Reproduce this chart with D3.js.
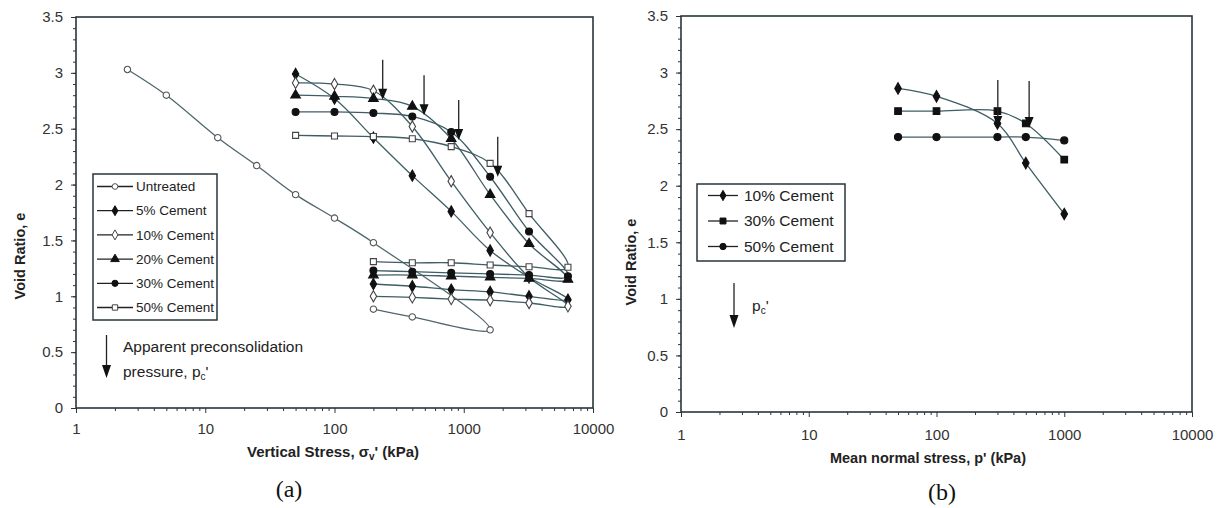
<!DOCTYPE html>
<html>
<head>
<meta charset="utf-8">
<script src="https://cdn.jsdelivr.net/npm/d3@7"></script>
<style>
  body { margin: 0; background: #fff; }
  svg { display: block; font-family: "Liberation Sans", Arial, sans-serif; }
</style>
</head>
<body>
<script>
// ---- data: panel (a) oedometer tests, [stress kPa, void ratio] ----
const untreated = [[2.5, 3.03], [5, 2.80], [12.5, 2.42], [25, 2.17], [50, 1.91], [100, 1.70], [200, 1.48],
  [1600, 0.70], [400, 0.815], [200, 0.885]];
const cement5 = [[50, 2.99], [100, 2.77], [200, 2.42], [400, 2.08], [800, 1.76], [1600, 1.41], [3200, 1.17], [6400, 0.97],
  [3200, 1.00], [1600, 1.04], [800, 1.06], [400, 1.09], [200, 1.11]];
const cement10 = [[50, 2.91], [100, 2.90], [200, 2.84], [400, 2.52], [800, 2.03], [1600, 1.57], [3200, 1.17], [6400, 0.91],
  [3200, 0.94], [1600, 0.965], [800, 0.975], [400, 0.99], [200, 1.00]];
const cement20 = [[50, 2.80], [100, 2.79], [200, 2.77], [400, 2.70], [800, 2.41], [1600, 1.91], [3200, 1.47], [6400, 1.15],
  [3200, 1.16], [1600, 1.17], [800, 1.18], [400, 1.19], [200, 1.19]];
const cement30 = [[50, 2.65], [100, 2.65], [200, 2.64], [400, 2.61], [800, 2.47], [1600, 2.07], [3200, 1.58], [6400, 1.18],
  [3200, 1.19], [1600, 1.20], [800, 1.21], [400, 1.22], [200, 1.23]];
const cement50 = [[50, 2.44], [100, 2.435], [200, 2.43], [400, 2.41], [800, 2.34], [1600, 2.19], [3200, 1.74], [6400, 1.26],
  [3200, 1.265], [1600, 1.28], [800, 1.30], [400, 1.30], [200, 1.31]];
// apparent preconsolidation pressures (stress, void ratio at arrow tip)
const pcA = [[236, 2.76], [493, 2.62], [914, 2.40], [1832, 2.07]];

// ---- data: panel (b) isotropic tests, [mean stress kPa, void ratio] ----
const iso10 = [[50, 2.86], [100, 2.79], [300, 2.55], [500, 2.20], [1000, 1.75]];
const iso30 = [[50, 2.66], [100, 2.66], [300, 2.66], [500, 2.55], [1000, 2.23]];
const iso50 = [[50, 2.43], [100, 2.43], [300, 2.43], [500, 2.43], [1000, 2.40]];
const pcB = [[302, 2.52], [531, 2.51]];

const xTicks = [1, 10, 100, 1000, 10000];
const yTicks = [0, 0.5, 1, 1.5, 2, 2.5, 3, 3.5];
const legendA = ["Untreated", "5% Cement", "10% Cement", "20% Cement", "30% Cement", "50% Cement"];
const legendB = ["10% Cement", "30% Cement", "50% Cement"];

const W = 1221, H = 508;
const lineCol = "#3f5d66", frameCol = "#26363b", tickCol = "#333";

const svg = d3.select("body").append("svg").attr("width", W).attr("height", H);

// marker styles
const styles = {
  untreated: { type: d3.symbolCircle, size: 32, fill: "#fff", stroke: "#555", line: "#4f666d" },
  c5: { type: d3.symbolDiamond, size: 36, fill: "#111", stroke: "#111", line: lineCol },
  c10: { type: d3.symbolDiamond, size: 36, fill: "#fff", stroke: "#444", line: lineCol },
  c20: { type: d3.symbolTriangle, size: 40, fill: "#111", stroke: "#111", line: lineCol },
  c30: { type: d3.symbolCircle, size: 38, fill: "#111", stroke: "#111", line: lineCol },
  c50: { type: d3.symbolSquare, size: 36, fill: "#fff", stroke: "#444", line: lineCol },
  b10: { type: d3.symbolDiamond, size: 38, fill: "#111", stroke: "#111", line: lineCol },
  b30: { type: d3.symbolSquare, size: 44, fill: "#111", stroke: "#111", line: lineCol },
  b50: { type: d3.symbolCircle, size: 40, fill: "#111", stroke: "#111", line: lineCol }
};

function drawPanel(p) {
  const x = d3.scaleLog().domain([1, 10000]).range([p.left, p.right]);
  const y = d3.scaleLinear().domain([0, 3.5]).range([p.bottom, p.top]);
  const g = svg.append("g");

  // minor ticks
  const minors = [];
  [1, 10, 100, 1000].forEach(d => { for (let k = 2; k <= 9; k++) minors.push(d * k); });
  g.append("g").attr("transform", `translate(0,${p.bottom})`)
    .call(d3.axisBottom(x).tickValues(minors).tickSize(3).tickFormat(""))
    .call(a => a.select(".domain").remove())
    .call(a => a.selectAll("line").attr("stroke", tickCol));
  g.append("g").attr("transform", `translate(${p.left},0)`)
    .call(d3.axisLeft(y).tickValues(d3.range(1, 35).map(i => i / 10)).tickSize(3).tickFormat(""))
    .call(a => a.select(".domain").remove())
    .call(a => a.selectAll("line").attr("stroke", tickCol));

  // major ticks
  g.append("g").attr("transform", `translate(0,${p.bottom})`)
    .call(d3.axisBottom(x).tickValues(xTicks).tickSize(5).tickPadding(p.xPad).tickFormat(d3.format("d")))
    .call(a => a.select(".domain").remove())
    .call(a => a.selectAll("line").attr("stroke", tickCol))
    .call(a => a.selectAll("text").attr("font-size", 15).attr("fill", "#333").attr("font-family", "Liberation Sans, Arial"));
  g.append("g").attr("transform", `translate(${p.left},0)`)
    .call(d3.axisLeft(y).tickValues(yTicks).tickSize(5).tickPadding(8).tickFormat(d => String(d)))
    .call(a => a.select(".domain").remove())
    .call(a => a.selectAll("line").attr("stroke", tickCol))
    .call(a => a.selectAll("text").attr("font-size", 15).attr("fill", "#333").attr("font-family", "Liberation Sans, Arial"));

  // frame
  g.append("rect").attr("x", p.left).attr("y", p.top)
    .attr("width", p.right - p.left).attr("height", p.bottom - p.top)
    .attr("fill", "none").attr("stroke", frameCol).attr("stroke-width", 1.6);

  // series
  const line = d3.line().x(d => x(d[0])).y(d => y(d[1])).curve(d3.curveCatmullRom.alpha(0.5));
  p.series.forEach(s => {
    const st = styles[s.style];
    g.append("path").datum(s.data).attr("d", line)
      .attr("fill", "none").attr("stroke", st.line).attr("stroke-width", 1.3);
  });
  p.series.forEach(s => {
    const st = styles[s.style];
    g.selectAll(null).data(s.data).enter().append("path")
      .attr("transform", d => `translate(${x(d[0])},${y(d[1])})`)
      .attr("d", d3.symbol().type(st.type).size(st.size))
      .attr("fill", st.fill).attr("stroke", st.stroke).attr("stroke-width", 1.1);
  });

  // preconsolidation arrows
  p.arrows.forEach(a => {
    const ax = x(a[0]), ay = y(a[1]);
    g.append("line").attr("x1", ax).attr("x2", ax).attr("y1", ay - p.arrowLen).attr("y2", ay - 8)
      .attr("stroke", "#222").attr("stroke-width", 1.3);
    g.append("path").attr("d", `M${ax - 4.5},${ay - 11}L${ax + 4.5},${ay - 11}L${ax},${ay}Z`).attr("fill", "#111");
  });

  // legend
  const lg = p.legend;
  g.append("rect").attr("x", lg.x).attr("y", lg.y).attr("width", lg.w).attr("height", lg.h)
    .attr("fill", "#fff").attr("stroke", frameCol).attr("stroke-width", 1.5);
  lg.labels.forEach((lab, i) => {
    const st = styles[lg.styles[i]];
    const cy = lg.y + lg.first + i * lg.step;
    g.append("line").attr("x1", lg.x + lg.l0).attr("x2", lg.x + lg.l1).attr("y1", cy).attr("y2", cy)
      .attr("stroke", "#222").attr("stroke-width", 1.3);
    g.append("path").attr("transform", `translate(${lg.x + (lg.l0 + lg.l1) / 2},${cy})`)
      .attr("d", d3.symbol().type(st.type).size(st.size * 0.8))
      .attr("fill", st.fill).attr("stroke", st.stroke).attr("stroke-width", 1);
    g.append("text").attr("x", lg.x + lg.tx).attr("y", cy).attr("dy", "0.35em")
      .attr("font-size", lg.font).attr("fill", "#222").text(lab);
  });

  return { x, y, g };
}

const A = drawPanel({
  left: 76, right: 593, top: 17, bottom: 408, xPad: 10,
  series: [
    { data: untreated, style: "untreated" },
    { data: cement5, style: "c5" },
    { data: cement10, style: "c10" },
    { data: cement20, style: "c20" },
    { data: cement30, style: "c30" },
    { data: cement50, style: "c50" }
  ],
  arrows: pcA, arrowLen: 40,
  legend: { x: 93, y: 174, w: 124, h: 146, first: 12.5, step: 24.2, l0: 4, l1: 40, tx: 43, font: 13.5,
    labels: legendA, styles: ["untreated", "c5", "c10", "c20", "c30", "c50"] }
});

const B = drawPanel({
  left: 681, right: 1192, top: 16, bottom: 412, xPad: 12,
  series: [
    { data: iso10, style: "b10" },
    { data: iso30, style: "b30" },
    { data: iso50, style: "b50" }
  ],
  arrows: pcB, arrowLen: 47,
  legend: { x: 697, y: 184, w: 148, h: 77, first: 11.5, step: 25.5, l0: 11, l1: 41, tx: 47, font: 15.5,
    labels: legendB, styles: ["b10", "b30", "b50"] }
});

// axis titles
function yTitle(cx, cy) {
  svg.append("text").attr("transform", `translate(${cx},${cy}) rotate(-90)`)
    .attr("text-anchor", "middle").attr("font-size", 14.5).attr("font-weight", "bold").attr("fill", "#222")
    .text("Void Ratio, e");
}
yTitle(25, 256);
yTitle(636, 262);

const tA = svg.append("text").attr("x", 333).attr("y", 457).attr("text-anchor", "middle")
  .attr("font-size", 15).attr("font-weight", "bold").attr("fill", "#222");
tA.append("tspan").text("Vertical Stress, σ");
tA.append("tspan").attr("font-size", 10).attr("dy", 3).text("v");
tA.append("tspan").attr("dy", -3).text("' (kPa)");

svg.append("text").attr("x", 928).attr("y", 463).attr("text-anchor", "middle")
  .attr("font-size", 14.5).attr("font-weight", "bold").attr("fill", "#222")
  .text("Mean normal stress, p' (kPa)");

// panel labels
svg.append("text").attr("x", 289).attr("y", 497).attr("text-anchor", "middle")
  .attr("font-family", "Liberation Serif, Times New Roman, serif").attr("font-size", 24).attr("fill", "#111").text("(a)");
svg.append("text").attr("x", 942).attr("y", 500).attr("text-anchor", "middle")
  .attr("font-family", "Liberation Serif, Times New Roman, serif").attr("font-size", 24).attr("fill", "#111").text("(b)");

// arrow keys
function keyArrow(ax, y0, y1) {
  svg.append("line").attr("x1", ax).attr("x2", ax).attr("y1", y0).attr("y2", y1 - 8)
    .attr("stroke", "#222").attr("stroke-width", 1.3);
  svg.append("path").attr("d", `M${ax - 4.5},${y1 - 13}L${ax + 4.5},${y1 - 13}L${ax},${y1}Z`).attr("fill", "#111");
}
keyArrow(106.5, 335, 378);
svg.append("text").attr("x", 123).attr("y", 352).attr("font-size", 15.5).attr("fill", "#222")
  .text("Apparent preconsolidation");
const pcText = svg.append("text").attr("x", 123).attr("y", 377).attr("font-size", 15.5).attr("fill", "#222");
pcText.append("tspan").text("pressure, p");
pcText.append("tspan").attr("font-size", 10).attr("dy", 3).text("c");
pcText.append("tspan").attr("dy", -3).text("'");

keyArrow(734, 283, 328);
const pcB2 = svg.append("text").attr("x", 752).attr("y", 311).attr("font-size", 15.5).attr("fill", "#222");
pcB2.append("tspan").text("p");
pcB2.append("tspan").attr("font-size", 10).attr("dy", 3).text("c");
pcB2.append("tspan").attr("dy", -3).text("'");
</script>
</body>
</html>
